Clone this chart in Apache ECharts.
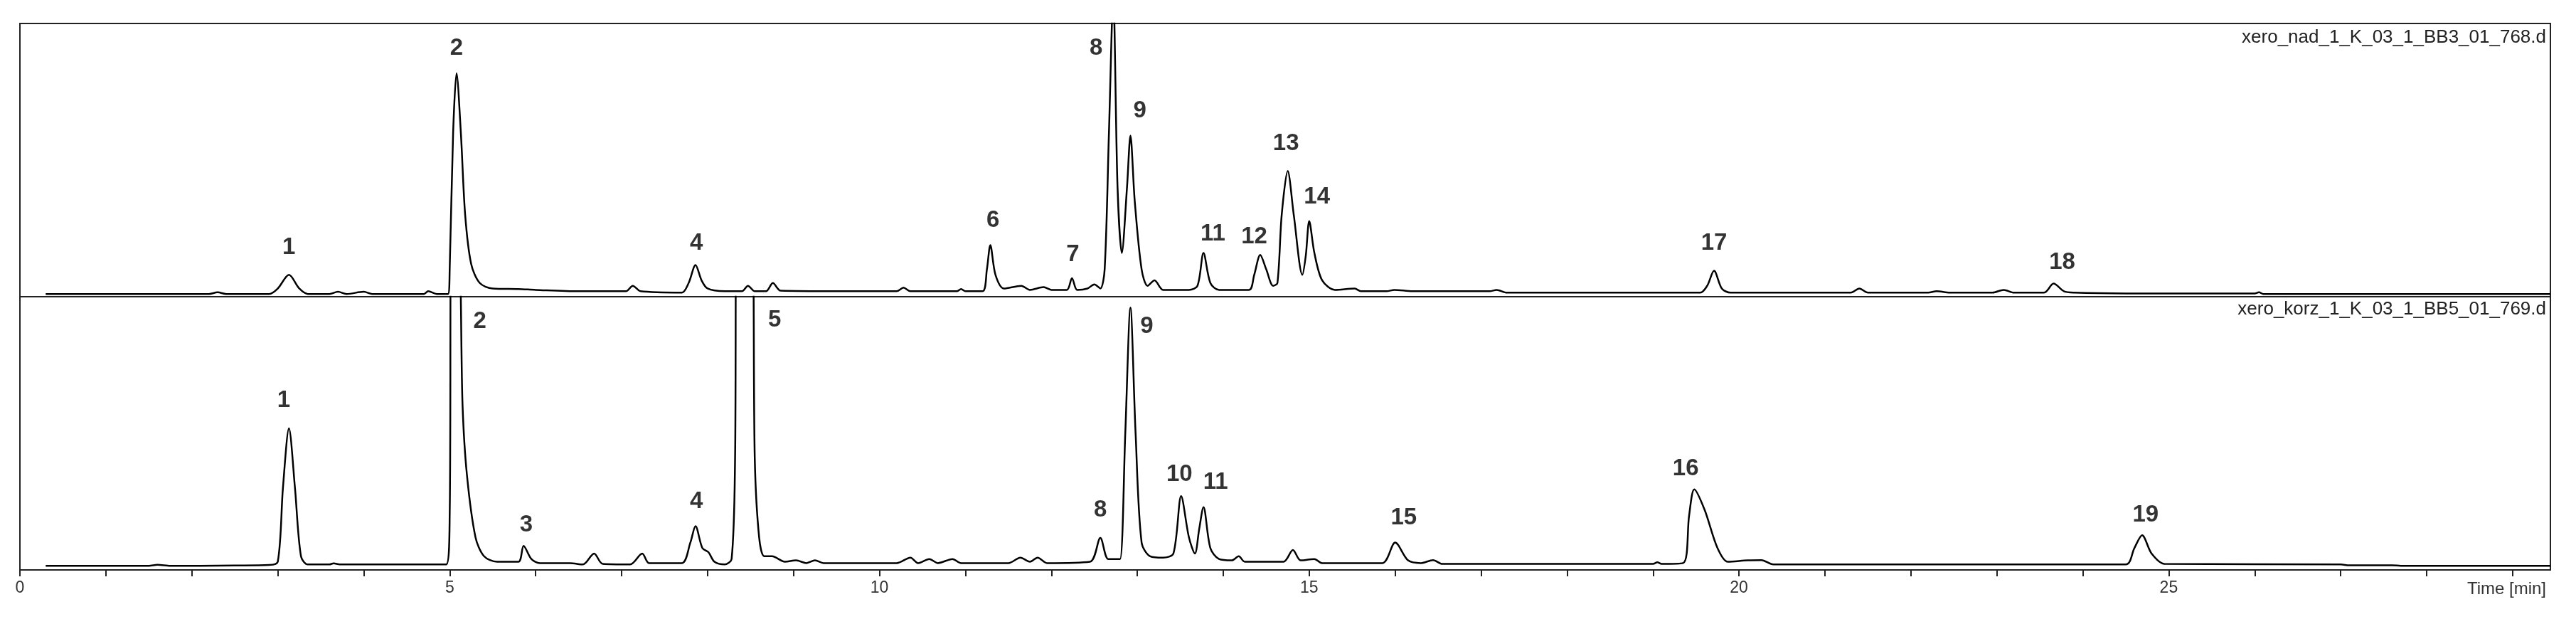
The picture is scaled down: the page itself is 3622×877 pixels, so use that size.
<!DOCTYPE html>
<html><head><meta charset="utf-8">
<script src="https://cdn.jsdelivr.net/npm/echarts@6/dist/echarts.min.js"></script>
<style>html,body{margin:0;padding:0;background:#fff}#c{width:3622px;height:877px}</style>
</head><body><div id="c"></div>
<script>
// trace points [time (min), relative response (%)]
const traceTop = [[0.3,1],[2.2,1],[2.3,1.6],[2.4,1],[2.9,1],[3.0,3],[3.13,8],[3.25,3],[3.35,1],[3.6,1],[3.7,1.8],[3.8,1],[4.0,1.8],[4.1,1],[4.7,1],[4.75,2],[4.85,1],[4.98,1],[5.0,10],[5.04,60],[5.08,81.8],[5.13,60],[5.18,30],[5.25,12],[5.35,5],[5.5,3],[5.8,2.8],[6.0,2.5],[6.5,2],[7.05,2],[7.13,4],[7.22,2],[7.7,1.5],[7.78,5],[7.86,11.6],[7.93,6],[8.0,3],[8.2,2],[8.4,2],[8.47,4],[8.55,2],[8.68,2],[8.76,5],[8.85,2.2],[9.5,2],[10.2,2],[10.28,3.3],[10.36,2],[10.9,2],[10.95,2.8],[11.0,2],[11.2,2],[11.25,10],[11.29,18.9],[11.35,8],[11.45,3],[11.65,4],[11.75,2.5],[11.91,3.5],[12.0,2.5],[12.18,2.5],[12.24,6.8],[12.3,2.5],[12.42,3],[12.5,4.5],[12.57,3],[12.62,10],[12.67,60],[12.72,110],[12.77,40],[12.82,16],[12.88,40],[12.92,59],[12.97,35],[13.05,10],[13.12,4],[13.2,6],[13.3,2.5],[13.6,2.5],[13.7,4],[13.77,16],[13.85,5],[13.95,2.5],[14.3,2.5],[14.36,8],[14.43,15.3],[14.5,10],[14.58,4],[14.63,5],[14.68,30],[14.75,46],[14.82,30],[14.92,8],[14.96,15],[15.0,27.7],[15.06,16],[15.15,6],[15.3,2.5],[15.53,3],[15.6,2],[15.9,2],[15.99,2.5],[16.2,2],[17.1,2],[17.18,2.5],[17.3,1.5],[19.55,1.5],[19.63,4],[19.71,9.5],[19.8,3],[19.9,1.5],[21.3,1.5],[21.4,3],[21.5,1.5],[22.2,1.5],[22.3,2],[22.45,1.5],[22.95,1.5],[23.08,2.5],[23.2,1.5],[23.55,1.5],[23.66,4.8],[23.78,2],[23.9,1.5],[24.5,1.2],[26.0,1.2],[26.05,1.6],[26.1,1],[29.44,1]];
const traceBottom = [[0.3,1.5],[1.5,1.5],[1.6,1.9],[1.75,1.5],[2.1,1.5],[2.5,1.6],[2.9,1.8],[3.0,3],[3.06,30],[3.13,51.8],[3.2,30],[3.27,5],[3.35,2],[3.6,2],[3.65,2.4],[3.72,2],[4.96,2],[5.0,20],[5.02,120],[5.1,120],[5.15,60],[5.2,35],[5.3,12],[5.4,5],[5.55,3],[5.8,3],[5.86,8.8],[5.95,4],[6.05,2.5],[6.4,2.5],[6.55,2],[6.68,6],[6.78,2.2],[7.1,2],[7.24,6],[7.32,2.5],[7.7,2.5],[7.8,10],[7.86,16],[7.94,8],[8.01,6.5],[8.08,3],[8.2,2],[8.28,4],[8.32,40],[8.34,130],[8.51,130],[8.55,40],[8.6,12],[8.66,5],[8.75,5],[8.9,3],[9.03,3.5],[9.15,2.5],[9.25,3.5],[9.35,2.5],[10.2,2.5],[10.36,4.5],[10.45,2.5],[10.58,4],[10.68,2.5],[10.85,4],[10.95,2.5],[11.5,2.5],[11.64,4.5],[11.75,3],[11.84,4.5],[11.95,2.5],[12.45,3],[12.57,11.7],[12.66,4],[12.75,4],[12.8,4],[12.86,50],[12.92,96],[12.98,50],[13.05,10],[13.15,5],[13.3,4.5],[13.42,6],[13.51,27],[13.6,12],[13.67,6],[13.72,15],[13.77,23],[13.85,8],[13.95,4],[14.1,3.5],[14.18,5],[14.25,3],[14.7,3],[14.81,7.3],[14.9,3.5],[15.06,4],[15.15,2.5],[15.85,2.5],[16.0,10],[16.15,3.5],[16.3,2.5],[16.44,3.6],[16.55,2.2],[19.0,2.2],[19.05,2.8],[19.1,2.2],[19.35,2.5],[19.42,20],[19.48,29.5],[19.6,22],[19.75,8],[19.87,3],[20.1,3.5],[20.26,3.6],[20.4,2],[24.5,2],[24.6,8],[24.69,12.7],[24.8,6],[24.95,2.2],[27.0,2],[27.1,1.7],[27.6,1.7],[27.7,1.5],[29.44,1.5]];
// peak labels [time, position %, name]
const labelsTop = [[3.13,18,'1'],[5.08,91,'2'],[7.87,19.6,'4'],[11.32,28,'6'],[12.25,15.3,'7'],[12.52,91,'8'],[13.03,68,'9'],[13.88,23,'11'],[14.36,21.8,'12'],[14.73,56,'13'],[15.09,36.4,'14'],[19.71,19.6,'17'],[23.76,12.4,'18']];
const labelsBottom = [[3.07,62,'1'],[5.35,90.8,'2'],[5.89,16.4,'3'],[7.87,25,'4'],[8.78,91.5,'5'],[12.57,22,'8'],[13.11,89,'9'],[13.49,35,'10'],[13.91,32,'11'],[16.1,19,'15'],[19.38,37,'16'],[24.73,20,'19']];
const fileTop = 'xero_nad_1_K_03_1_BB3_01_768.d';
const fileBottom = 'xero_korz_1_K_03_1_BB5_01_769.d';
const xMax = 29.44;

const chart = echarts.init(document.getElementById('c'));
const font = '"Liberation Sans", Arial, sans-serif';
function xAx(i, showLabels){
  return {type:'value', gridIndex:i, min:0, max:xMax, interval:1,
    axisLine:{show:true, lineStyle:{color:'#222', width:2}},
    axisTick:{show:showLabels, length:9, lineStyle:{color:'#222', width:2}},
    axisLabel:{show:showLabels, showMaxLabel:false, color:'#333', fontSize:23, fontFamily:font, margin:14,
      formatter:v=> (Math.round(v)%5===0 ? String(Math.round(v)) : '')},
    splitLine:{show:false}};
}
function yAx(i){
  return {type:'value', gridIndex:i, min:0, max:100, axisLine:{show:true, lineStyle:{color:'#222', width:2}},
    axisTick:{show:false}, axisLabel:{show:false}, splitLine:{show:false}};
}
function lab(arr, i){
  return {type:'scatter', xAxisIndex:i, yAxisIndex:i, symbolSize:0, silent:true,
    data: arr.map(d=>({value:[d[0],d[1]], name:d[2]})),
    label:{show:true, position:'inside', formatter:p=>p.name, fontSize:33, fontWeight:'bold', color:'#000', fontFamily:font}};
}
chart.setOption({
  animation:false,
  backgroundColor:'#fff',
  grid:[{left:28, right:36, top:33, height:384, show:true, borderColor:'#222', borderWidth:2},
        {left:28, right:36, top:417, height:384, show:true, borderColor:'#222', borderWidth:2}],
  xAxis:[xAx(0,false), xAx(1,true)],
  yAxis:[yAx(0), yAx(1)],
  series:[
    {type:'line', xAxisIndex:0, yAxisIndex:0, data:traceTop, showSymbol:false, smooth:0.3, clip:true, lineStyle:{color:'#000', width:2.5}},
    {type:'line', xAxisIndex:1, yAxisIndex:1, data:traceBottom, showSymbol:false, smooth:0.3, clip:true, lineStyle:{color:'#000', width:2.5}},
    lab(labelsTop,0), lab(labelsBottom,1)
  ],
  graphic:[
    {type:'text', right:42, top:40, style:{text:fileTop, font:'26px '+font, fill:'#222'}},
    {type:'text', right:42, top:422, style:{text:fileBottom, font:'26px '+font, fill:'#222'}},
    {type:'text', right:42, top:816, style:{text:'Time [min]', font:'24px '+font, fill:'#333'}}
  ]
});
</script></body></html>
